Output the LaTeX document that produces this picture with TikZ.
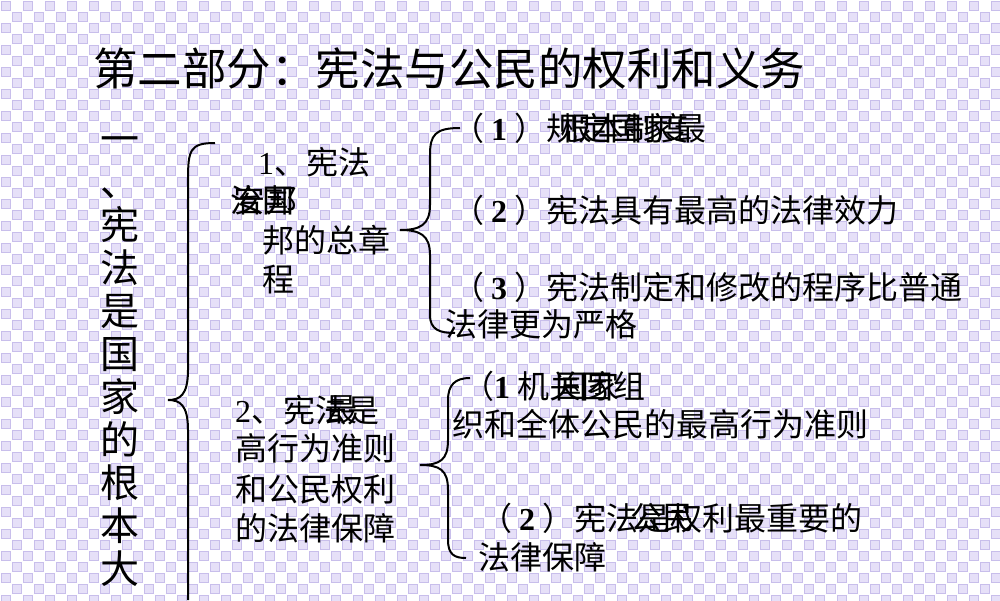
\documentclass[tikz,border=0pt]{standalone}
\usepackage{fontspec}
\setmainfont{Liberation Serif}
\newfontfamily\cjk{Noto Sans CJK SC}
\definecolor{gf}{HTML}{E6E0F8}
\definecolor{gl}{HTML}{C8BEEB}
\newcommand{\pn}[1]{（\hspace{7pt}{\bfseries\rmfamily #1}\hspace{7pt}）}
\tikzset{t/.style={anchor=west,inner sep=0pt,font=\cjk\fontsize{32}{36}\selectfont},
 br/.style={line width=2pt}}
\begin{document}
\begin{tikzpicture}[x=1pt,y=-1pt]
\useasboundingbox (0,0) rectangle (1000,600);
\fill[white] (0,0) rectangle (1000,600);
\foreach \i in {0,...,90}{\foreach \j in {0,...,54}{
 \pgfmathparse{int(mod(\i+\j,2))}
 \ifnum\pgfmathresult=0
 \filldraw[fill=gf,draw=gl,line width=0.6pt] (\i*11+1,\j*11+1) rectangle ++(9,9);
 \fi}}
\node[t,font=\cjk\fontsize{44.5}{48}\selectfont] (title) at (93,68) {第二部分：宪法与公民的权利和义务};
\node[anchor=north,inner sep=0pt,align=center,font=\cjk\fontsize{39}{43}\selectfont] (left) at (120,136) {一\\、\\宪\\法\\是\\国\\家\\的\\根\\本\\大};
\draw[br] (215,143) .. controls (190,143) and (188,150) .. (188,180) -- (188,370) .. controls (188,395) and (180,400) .. (168,400) .. controls (180,400) and (188,405) .. (188,430) -- (188,600);
\node[t] (a1) at (258,162) {{\rmfamily 1}、宪法};
\node[t] (a2) at (230,200) {治国};
\node[t] at (233,200) {安邦};
\node[t] (a3) at (262,240) {邦的总章};
\node[t] (a4) at (262,280) {程};
\draw[br] (460,128) .. controls (435,128) and (430,135) .. (430,155) -- (430,205) .. controls (430,225) and (420,230) .. (400,230) .. controls (420,230) and (430,235) .. (430,255) -- (430,315) .. controls (430,330) and (440,333) .. (455,333);
\node[t] (b1) at (452,128) {\pn{1}规定国家最};
\node[t] at (560,128) {根本制度};
\node[t] (b2) at (452,210) {\pn{2}宪法具有最高的法律效力};
\node[t] (b3) at (452,287) {\pn{3}宪法制定和修改的程序比普通};
\node[t] (b3b) at (445,324) {法律更为严格};
\node[t] (c1) at (235,410) {{\rmfamily 2}、宪法是};
\node[t] at (325,410) {最};
\node[t] (c2) at (235,448) {高行为准则};
\node[t] (c3) at (235,489) {和公民权利};
\node[t] (c4) at (235,528) {的法律保障};
\draw[br] (470,378) .. controls (455,378) and (448,385) .. (448,400) -- (448,440) .. controls (448,460) and (440,465) .. (420,465) .. controls (440,465) and (448,470) .. (448,490) -- (448,540) .. controls (448,555) and (455,558) .. (466,558);
\node[t] (d1) at (462,386) {（{\bfseries\rmfamily 1} 机关团组};
\node[t] at (555,386) {国家};
\node[t] (d2) at (452,424) {织和全体公民的最高行为准则};
\node[t] (d3) at (480,518) {\pn{2}宪法是权利最重要的};
\node[t] at (630,518) {公民};
\node[t] (d4) at (478,557) {法律保障};
\end{tikzpicture}
\end{document}
